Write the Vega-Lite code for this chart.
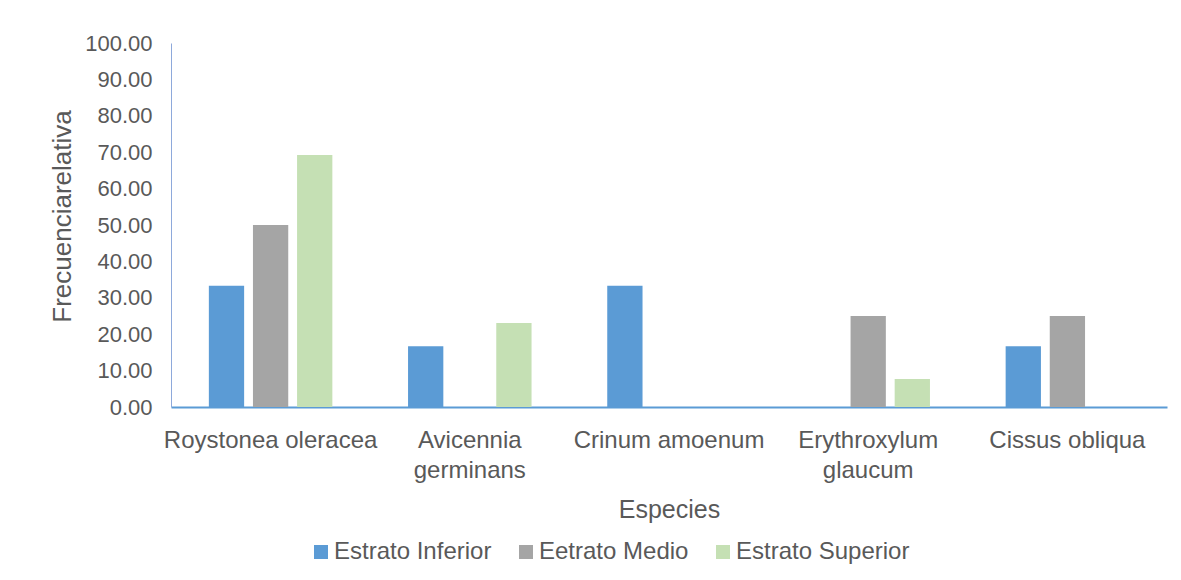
{
  "$schema": "https://vega.github.io/schema/vega-lite/v6.json",
  "autosize": {"type": "none"},
  "width": 996,
  "height": 364,
  "padding": {"left": 171, "top": 43, "right": 14, "bottom": 173},
  "background": "white",
  "config": {
    "view": {"stroke": null},
    "font": "Liberation Sans",
    "axis": {"labelFont": "Liberation Sans", "titleFont": "Liberation Sans", "labelColor": "#595959", "titleColor": "#595959", "titleFontWeight": "normal", "grid": false, "ticks": false},
    "legend": {"labelFont": "Liberation Sans"}
  },
  "data": {
    "values": [
      {"especie": "Roystonea oleracea", "estrato": "Estrato Inferior", "valor": 33.33},
      {"especie": "Roystonea oleracea", "estrato": "Eetrato Medio", "valor": 50.0},
      {"especie": "Roystonea oleracea", "estrato": "Estrato Superior", "valor": 69.23},
      {"especie": "Avicennia germinans", "estrato": "Estrato Inferior", "valor": 16.67},
      {"especie": "Avicennia germinans", "estrato": "Eetrato Medio", "valor": 0},
      {"especie": "Avicennia germinans", "estrato": "Estrato Superior", "valor": 23.08},
      {"especie": "Crinum amoenum", "estrato": "Estrato Inferior", "valor": 33.33},
      {"especie": "Crinum amoenum", "estrato": "Eetrato Medio", "valor": 0},
      {"especie": "Crinum amoenum", "estrato": "Estrato Superior", "valor": 0},
      {"especie": "Erythroxylum glaucum", "estrato": "Estrato Inferior", "valor": 0},
      {"especie": "Erythroxylum glaucum", "estrato": "Eetrato Medio", "valor": 25.0},
      {"especie": "Erythroxylum glaucum", "estrato": "Estrato Superior", "valor": 7.69},
      {"especie": "Cissus obliqua", "estrato": "Estrato Inferior", "valor": 16.67},
      {"especie": "Cissus obliqua", "estrato": "Eetrato Medio", "valor": 25.0},
      {"especie": "Cissus obliqua", "estrato": "Estrato Superior", "valor": 0}
    ]
  },
  "mark": {"type": "bar"},
  "encoding": {
    "x": {
      "field": "especie",
      "type": "nominal",
      "sort": ["Roystonea oleracea", "Avicennia germinans", "Crinum amoenum", "Erythroxylum glaucum", "Cissus obliqua"],
      "scale": {"paddingInner": 0.38, "paddingOuter": 0.19},
      "axis": {
        "title": "Especies",
        "titleFontSize": 25,
        "titlePadding": 15,
        "labelFontSize": 24,
        "labelLimit": 0,
        "labelAngle": 0,
        "labelPadding": 21,
        "labelLineHeight": 30,
        "labelExpr": "datum.label == 'Avicennia germinans' ? ['Avicennia', 'germinans'] : datum.label == 'Erythroxylum glaucum' ? ['Erythroxylum', 'glaucum'] : datum.label",
        "domainColor": "#5B9BD5",
        "domainWidth": 2
      }
    },
    "xOffset": {
      "field": "estrato",
      "type": "nominal",
      "sort": ["Estrato Inferior", "Eetrato Medio", "Estrato Superior"],
      "scale": {"paddingInner": 0.2, "paddingOuter": 0}
    },
    "y": {
      "field": "valor",
      "type": "quantitative",
      "scale": {"domain": [0, 100], "nice": false},
      "axis": {
        "title": "Frecuenciarelativa",
        "titleFontSize": 26,
        "titlePadding": 9,
        "titleY": 173,
        "labelFontSize": 22,
        "labelPadding": 19,
        "format": ".2f",
        "values": [0, 10, 20, 30, 40, 50, 60, 70, 80, 90, 100],
        "domainColor": "#8EA9DB",
        "domainWidth": 1
      }
    },
    "color": {
      "field": "estrato",
      "type": "nominal",
      "sort": ["Estrato Inferior", "Eetrato Medio", "Estrato Superior"],
      "scale": {"domain": ["Estrato Inferior", "Eetrato Medio", "Estrato Superior"], "range": ["#5B9BD5", "#A5A5A5", "#C5E0B4"]},
      "legend": {
        "title": null,
        "orient": "none",
        "direction": "horizontal",
        "legendX": 138,
        "legendY": 497,
        "symbolType": "square",
        "symbolSize": 196,
        "symbolStrokeWidth": 0,
        "labelFontSize": 24,
        "labelLimit": 0,
        "labelColor": "#595959",
        "labelOffset": 1,
        "columnPadding": 22
      }
    }
  }
}
